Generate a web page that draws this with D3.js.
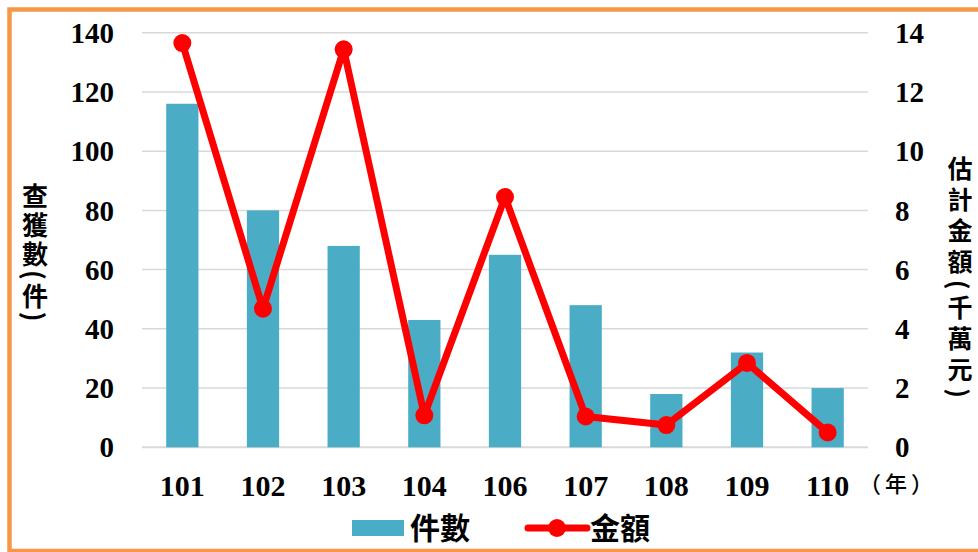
<!DOCTYPE html>
<html>
<head>
<meta charset="utf-8">
<script src="https://cdn.jsdelivr.net/npm/d3@7"></script>
<style>
  html, body { margin: 0; padding: 0; background: #fff; }
  svg { display: block; }
</style>
</head>
<body>
<div id="chart"></div>
<script>
// data
const years = ["101", "102", "103", "104", "106", "107", "108", "109", "110"];
const cases = [116, 80, 68, 43, 65, 48, 18, 32, 20];
const amounts = [13.65, 4.68, 13.44, 1.08, 8.45, 1.04, 0.75, 2.85, 0.5];
const leftTicks = [0, 20, 40, 60, 80, 100, 120, 140];
const rightTicks = [0, 2, 4, 6, 8, 10, 12, 14];

const width = 978, height = 552;
const plot = { left: 142, right: 868, top: 32.7, bottom: 447.3 };
const numFont = "'Liberation Serif', 'Times New Roman', serif";
const cjkFont = "'Noto Sans CJK TC', 'Noto Sans CJK SC', sans-serif";
const teal = "#4BACC6", red = "#FF0000";

const svg = d3.select("#chart").append("svg")
  .attr("width", width).attr("height", height);

svg.append("rect")
  .attr("x", 9.5).attr("y", 9.5)
  .attr("width", 975).attr("height", 541.5)
  .attr("fill", "#fff")
  .attr("stroke", "#F79646")
  .attr("stroke-width", 4.5);

const x = d3.scaleBand().domain(years).range([plot.left, plot.right]).padding(0);
const yL = d3.scaleLinear().domain([0, 140]).range([plot.bottom, plot.top]);
const yR = d3.scaleLinear().domain([0, 14]).range([plot.bottom, plot.top]);

// gridlines
svg.append("g")
  .selectAll("line")
  .data(leftTicks)
  .join("line")
  .attr("x1", plot.left).attr("x2", plot.right)
  .attr("y1", (d) => yL(d)).attr("y2", (d) => yL(d))
  .attr("stroke", "#D9D9D9")
  .attr("stroke-width", (d) => (d === 0 ? 2 : 1.5));

// left axis labels
svg.append("g")
  .selectAll("text")
  .data(leftTicks)
  .join("text")
  .attr("x", 114)
  .attr("y", (d) => yL(d))
  .attr("dy", "0.35em")
  .attr("text-anchor", "end")
  .style("font-family", numFont)
  .style("font-weight", "bold")
  .style("font-size", "29px")
  .text((d) => d);

// right axis labels
svg.append("g")
  .selectAll("text")
  .data(rightTicks)
  .join("text")
  .attr("x", 895)
  .attr("y", (d) => yR(d))
  .attr("dy", "0.35em")
  .attr("text-anchor", "start")
  .style("font-family", numFont)
  .style("font-weight", "bold")
  .style("font-size", "29px")
  .text((d) => d);

// x labels
svg.append("g")
  .selectAll("text")
  .data(years)
  .join("text")
  .attr("x", (d) => x(d) + x.bandwidth() / 2)
  .attr("y", 496)
  .attr("text-anchor", "middle")
  .style("font-family", numFont)
  .style("font-weight", "bold")
  .style("font-size", "30px")
  .text((d) => d);

svg.append("text")
  .attr("x", 898).attr("y", 492)
  .attr("text-anchor", "middle")
  .style("font-family", cjkFont)
  .style("font-weight", "500")
  .style("font-size", "22px")
  .style("letter-spacing", "4px")
  .text("（年）");

// bars
const barW = x.bandwidth() * 0.4;
svg.append("g")
  .selectAll("rect")
  .data(years.map((y, i) => ({ year: y, v: cases[i] })))
  .join("rect")
  .attr("x", (d) => x(d.year) + (x.bandwidth() - barW) / 2)
  .attr("y", (d) => yL(d.v))
  .attr("width", barW)
  .attr("height", (d) => yL(0) - yL(d.v))
  .attr("fill", teal);

// line
const pts = years.map((y, i) => ({ year: y, v: amounts[i] }));
const line = d3.line()
  .x((d) => x(d.year) + x.bandwidth() / 2)
  .y((d) => yR(d.v));

svg.append("path")
  .datum(pts)
  .attr("d", line)
  .attr("fill", "none")
  .attr("stroke", red)
  .attr("stroke-width", 7)
  .attr("stroke-linejoin", "round");

svg.append("g")
  .selectAll("circle")
  .data(pts)
  .join("circle")
  .attr("cx", (d) => x(d.year) + x.bandwidth() / 2)
  .attr("cy", (d) => yR(d.v))
  .attr("r", 9)
  .attr("fill", red);

// axis titles (vertical)
svg.append("text")
  .attr("x", 35).attr("y", 183)
  .attr("writing-mode", "tb")
  .style("font-family", cjkFont)
  .style("font-weight", "bold")
  .style("font-size", "26px")
  .style("letter-spacing", "3px")
  .text("查獲數(件)");

svg.append("text")
  .attr("x", 960).attr("y", 156)
  .attr("writing-mode", "tb")
  .style("font-family", cjkFont)
  .style("font-weight", "bold")
  .style("font-size", "25px")
  .style("letter-spacing", "6px")
  .text("估計金額(千萬元)");

// legend
const legend = svg.append("g");
legend.append("rect")
  .attr("x", 352).attr("y", 520)
  .attr("width", 52).attr("height", 16)
  .attr("fill", teal);
legend.append("text")
  .attr("x", 410).attr("y", 528)
  .attr("dy", "0.35em")
  .style("font-family", cjkFont)
  .style("font-weight", "bold")
  .style("font-size", "30px")
  .text("件數");
legend.append("line")
  .attr("x1", 528).attr("x2", 587)
  .attr("y1", 528).attr("y2", 528)
  .attr("stroke", red)
  .attr("stroke-width", 7)
  .attr("stroke-linecap", "round");
legend.append("circle")
  .attr("cx", 557).attr("cy", 528)
  .attr("r", 9).attr("fill", red);
legend.append("text")
  .attr("x", 590).attr("y", 528)
  .attr("dy", "0.35em")
  .style("font-family", cjkFont)
  .style("font-weight", "bold")
  .style("font-size", "30px")
  .text("金額");
</script>
</body>
</html>
